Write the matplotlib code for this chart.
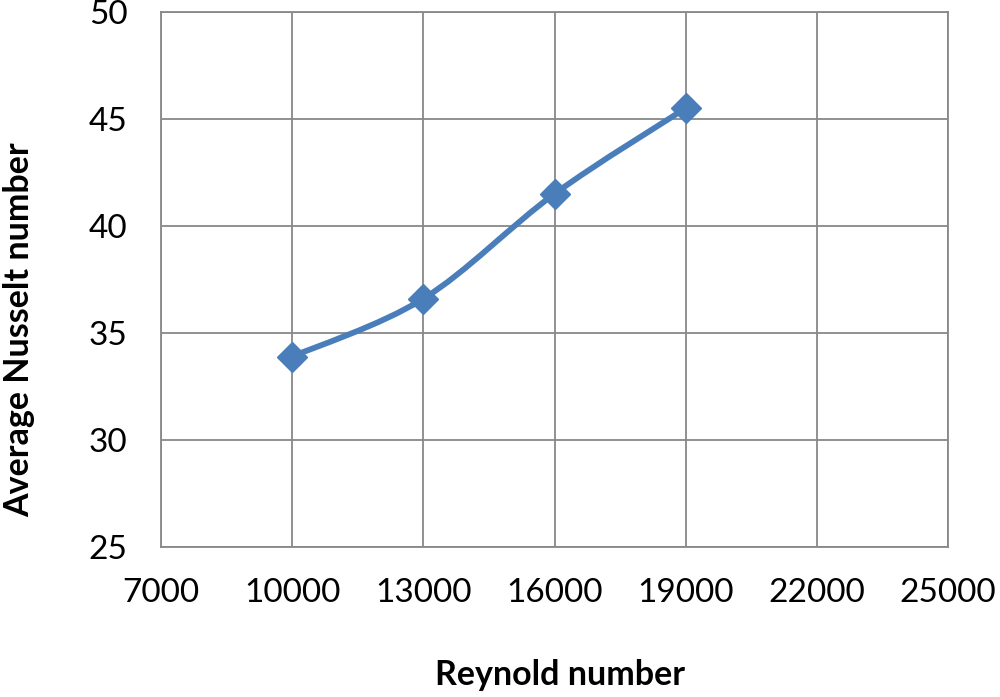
import matplotlib
matplotlib.use("Agg")
import matplotlib.pyplot as plt
from matplotlib.path import Path
from matplotlib.patches import PathPatch
import numpy as np

reynolds = [10000, 13000, 16000, 19000]
nusselt = [33.9, 36.6, 41.5, 45.5]
x_ticks = [7000, 10000, 13000, 16000, 19000, 22000, 25000]
y_ticks = [25, 30, 35, 40, 45, 50]

blue = "#4a7ebb"
grid_grey = "#888888"

plt.rcParams['font.family'] = ['Lato', 'DejaVu Sans']

fig = plt.figure(figsize=(10, 6.97), dpi=100)
ax = fig.add_axes([0.161, 0.215, 0.787, 0.768])


def smooth_path(xs, ys):
    # Excel-like smoothed line: cubic Bezier segments with Catmull-Rom control points
    pts = np.column_stack([xs, ys]).astype(float)
    n = len(pts)
    verts = [pts[0]]
    codes = [Path.MOVETO]
    for i in range(n - 1):
        p0 = pts[i - 1] if i > 0 else pts[i]
        p1 = pts[i]
        p2 = pts[i + 1]
        p3 = pts[i + 2] if i + 2 < n else pts[i + 1]
        c1 = p1 + (p2 - p0) / 6.0
        c2 = p2 - (p3 - p1) / 6.0
        verts += [c1, c2, p2]
        codes += [Path.CURVE4] * 3
    return Path(verts, codes)


ax.add_patch(PathPatch(smooth_path(reynolds, nusselt), facecolor='none',
                       edgecolor=blue, linewidth=4.2, capstyle='round',
                       joinstyle='round', zorder=3))
ax.plot(reynolds, nusselt, linestyle='none', marker='D', markersize=15,
        color=blue, zorder=4)

ax.set_xlim(7000, 25000)
ax.set_ylim(25, 50)
ax.set_xticks(x_ticks)
ax.set_yticks(y_ticks)
ax.grid(True, color=grid_grey, linewidth=1.3)
ax.set_axisbelow(True)
for s in ax.spines.values():
    s.set_color(grid_grey)
    s.set_linewidth(1.3)
ax.tick_params(length=0, labelsize=24, colors='black')
ax.tick_params(axis='y', pad=24)
ax.tick_params(axis='x', pad=22)

ax.set_xlabel("Reynold number", fontsize=24.5, fontweight='bold', va='center')
ax.xaxis.set_label_coords(0.507, -0.239)
ax.set_ylabel("Average Nusselt number", fontsize=24.5, fontweight='bold', va='center')
ax.yaxis.set_label_coords(-0.180, 0.406)

fig.savefig("out.png", dpi=100)
